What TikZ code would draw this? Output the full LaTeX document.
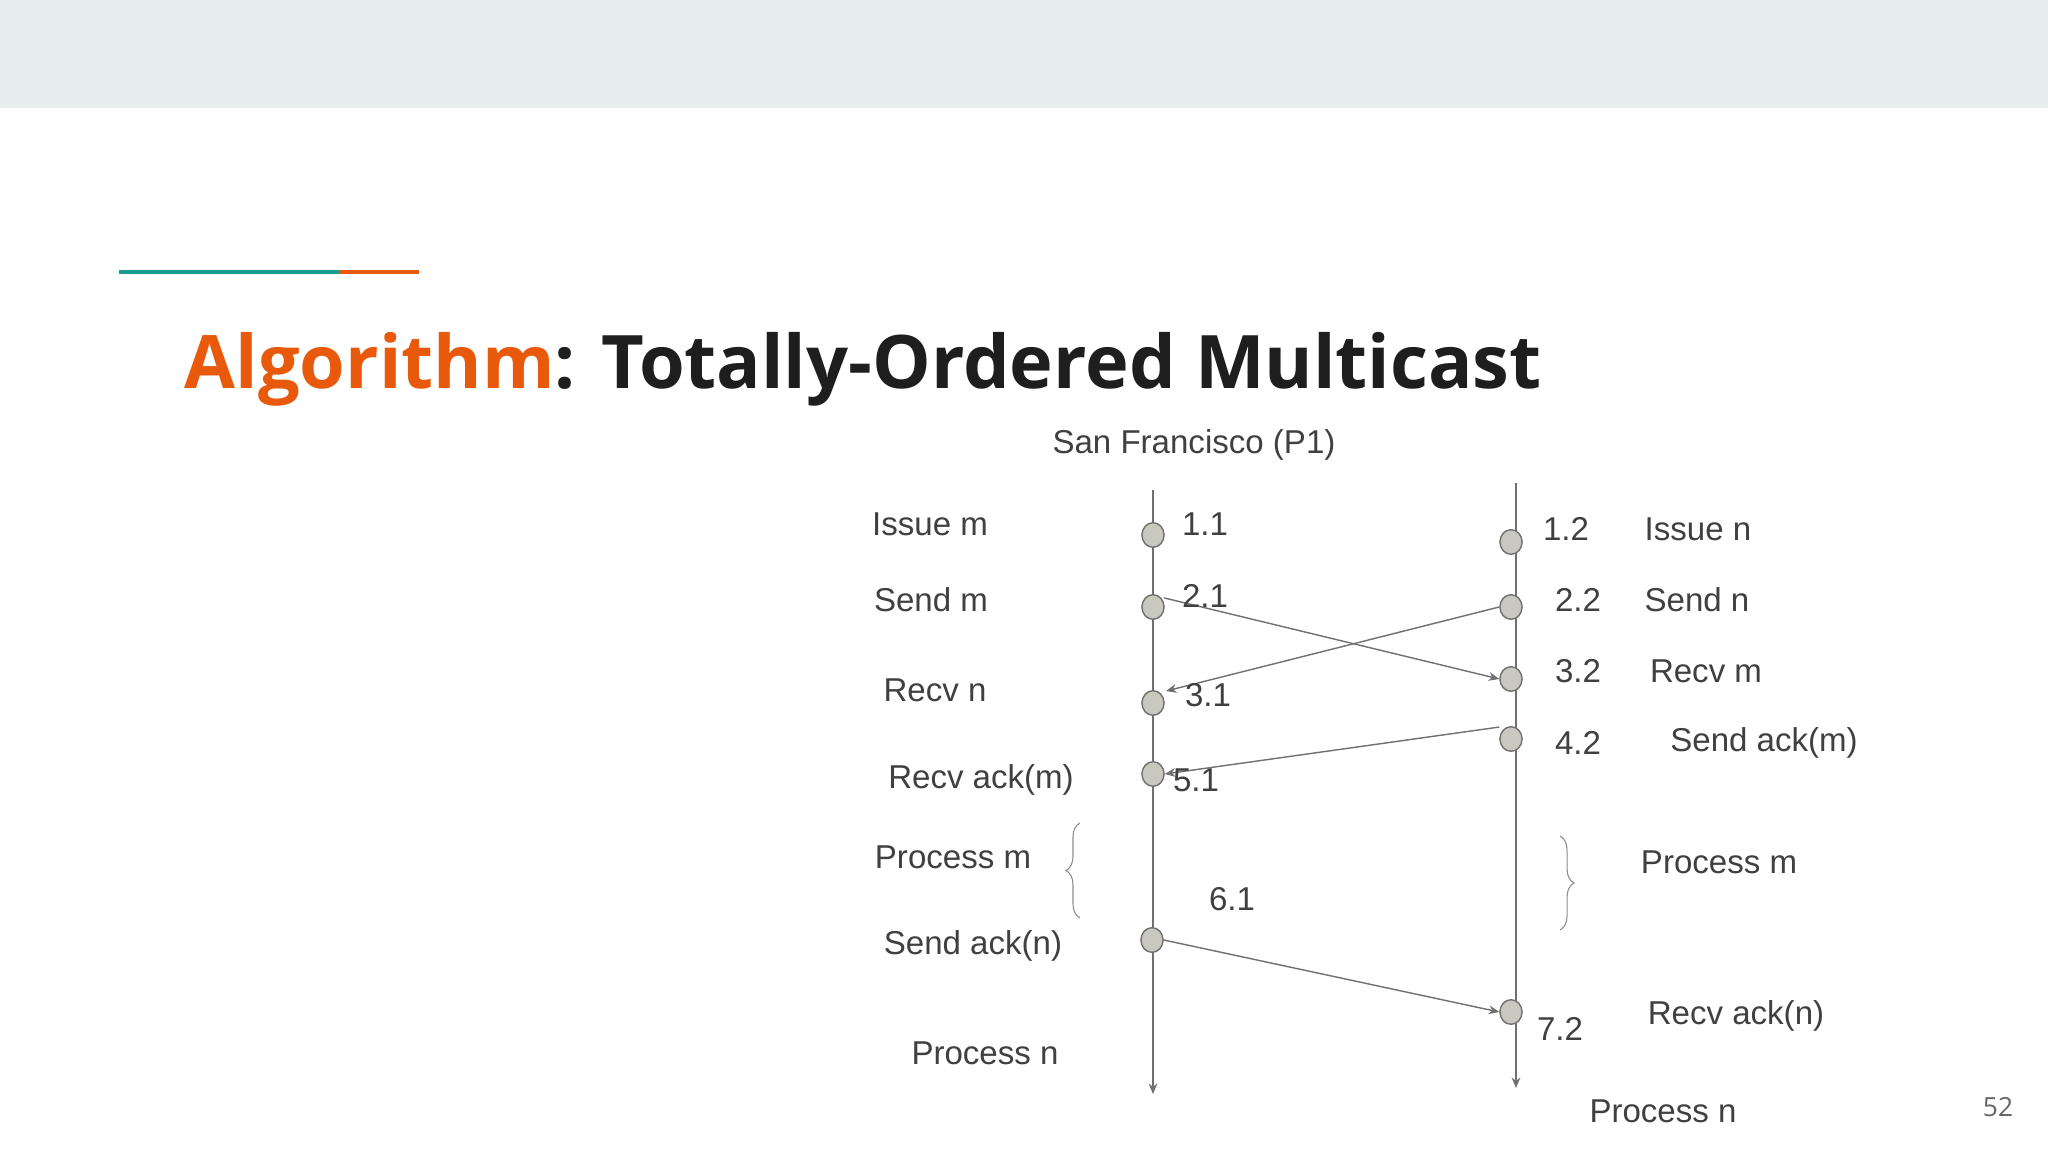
\documentclass[tikz,border=0pt]{standalone}
\usepackage{fontspec}
\setmainfont{Liberation Sans}
\newfontfamily\titlefont{Open Sans}
\usetikzlibrary{arrows.meta,decorations.pathreplacing,shapes.geometric}
\definecolor{band}{HTML}{E8EEEE}
\definecolor{teal1}{HTML}{1A9C8C}
\definecolor{orng}{HTML}{E8590C}
\definecolor{ink}{HTML}{1E1E1E}
\definecolor{lbl}{HTML}{404040}
\definecolor{ln}{HTML}{707070}
\definecolor{dotfill}{HTML}{C9C8C0}
\tikzset{
  lab/.style={font=\fontsize{9.4}{11}\selectfont, text=lbl, inner sep=0pt},
  ev/.style={ellipse, minimum width=6.3pt, minimum height=7pt, inner sep=0pt, draw=ln, fill=dotfill, line width=0.4pt},
  msg/.style={draw=ln, line width=0.4pt, -{Stealth[length=3pt,width=2.5pt]}},
  tl/.style={draw=ln, line width=0.4pt, -{Stealth[length=3pt,width=2.5pt]}},
  brc/.style={draw=ln!80, line width=0.3pt, decorate, decoration={brace, amplitude=4}}
}
\begin{document}
\begin{tikzpicture}[x=0.01cm,y=-0.01cm]
\useasboundingbox (0,0) rectangle (2048,1152);
\fill[white] (0,0) rectangle (2048,1152);
\fill[band] (0,0) rectangle (2048,108);
\draw[teal1, line width=1.2pt] (119,272) -- (340,272);
\draw[orng, line width=1.2pt] (340,272) -- (419,272);
\node[anchor=base west, inner sep=0pt, font=\titlefont\bfseries\fontsize{21}{25}\selectfont] (title) at (184,389) {\textcolor{orng}{Algorithm}\textcolor{ink}{: Totally-Ordered Multicast}};
\node[lab] (sf) at (1194,445) {San Francisco (P1)};
% timelines
\coordinate (lt) at (1153,490); \coordinate (lb) at (1153,1094);
\coordinate (rt) at (1516,483); \coordinate (rb) at (1516,1088);
\draw[tl] (lt) -- (lb);
\draw[tl] (rt) -- (rb);
% events
\node[ev] (l1) at (1153,535) {};
\node[ev] (l2) at (1153,607) {};
\node[ev] (l3) at (1153,703) {};
\node[ev] (l5) at (1153,774) {};
\node[ev] (l6) at (1152,940) {};
\node[ev] (r1) at (1511,542) {};
\node[ev] (r2) at (1511,607) {};
\node[ev] (r3) at (1511,679) {};
\node[ev] (r4) at (1511,739) {};
\node[ev] (r7) at (1511,1012) {};
% messages
\draw[msg] ([xshift=3.1pt,yshift=2.6pt]l2.center) -- (r3.west);
\draw[msg] (r2.west) -- ([xshift=3.7pt,yshift=3.4pt]l3.center);
\draw[msg] ([yshift=3.4pt]r4.west) -- (l5.east);
\draw[msg] (l6.east) -- (r7.west);
% braces
\draw[brc] (1080,918) -- (1080,823);
\draw[brc] (1560,836) -- (1560,930);
% left labels
\node[lab] (a1) at (930,524) {Issue m};
\node[lab] (a2) at (931,600) {Send m};
\node[lab] (a3) at (935,690) {Recv n};
\node[lab] (a5) at (981,780) {Recv ack(m)};
\node[lab] (a6) at (953,857) {Process m};
\node[lab] (a7) at (973,946) {Send ack(n)};
\node[lab] (a8) at (985,1053) {Process n};
\node[lab] (n11) at (1205,524) {1.1};
\node[lab] (n21) at (1205,596) {2.1};
\node[lab] (n31) at (1208,695) {3.1};
\node[lab] (n51) at (1196,780) {5.1};
\node[lab] (n61) at (1232,899) {6.1};
% right labels
\node[lab] (n12) at (1566,529) {1.2};
\node[lab] (b1) at (1698,529) {Issue n};
\node[lab] (n22) at (1578,600) {2.2};
\node[lab] (b2) at (1697,600) {Send n};
\node[lab] (n32) at (1578,671) {3.2};
\node[lab] (b3) at (1706,671) {Recv m};
\node[lab] (n42) at (1578,743) {4.2};
\node[lab] (b4) at (1764,743) {Send ack(m)};
\node[lab] (b5) at (1719,862) {Process m};
\node[lab] (n72) at (1560,1029) {7.2};
\node[lab] (b7) at (1736,1016) {Recv ack(n)};
\node[lab] (b8) at (1663,1111) {Process n};
\node[inner sep=0pt, text=lbl!80, font=\titlefont\fontsize{7.5}{9}\selectfont] (pg) at (1998,1107) {52};
\end{tikzpicture}
\end{document}
